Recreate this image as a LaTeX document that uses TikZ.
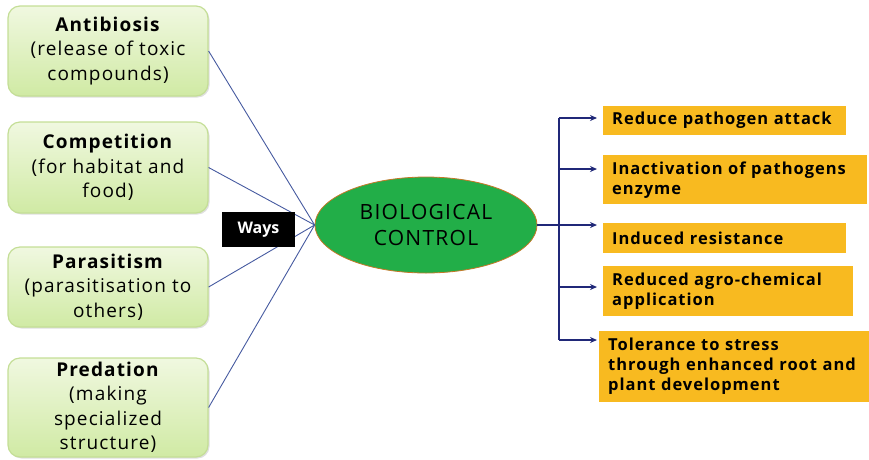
\documentclass[tikz,border=0pt]{standalone}
\usepackage{fontspec}
\setmainfont{Open Sans}
\newfontfamily\widefont[LetterSpace=6]{Open Sans}
\usetikzlibrary{shapes.geometric,arrows.meta,shadows}
\definecolor{boxgreenA}{RGB}{240,248,224}
\definecolor{boxgreenB}{RGB}{208,234,164}
\definecolor{boxgreenEdge}{RGB}{196,222,150}
\definecolor{ovalgreen}{RGB}{34,174,72}
\definecolor{ovaledge}{RGB}{196,120,40}
\definecolor{tipbox}{RGB}{248,186,32}
\definecolor{navy}{RGB}{32,40,120}
\definecolor{wire}{RGB}{70,90,160}
\tikzset{
  waybox/.style={draw=boxgreenEdge, line width=1.2pt, rounded corners=12pt,
    top color=boxgreenA, bottom color=boxgreenB, minimum width=200pt,
    align=center, font=\widefont\fontsize{19}{24.5}\selectfont, inner sep=0pt,
    drop shadow={shadow xshift=1.5pt, shadow yshift=-1.5pt, opacity=0.25}},
  effect/.style={fill=tipbox, anchor=north west, align=left, inner xsep=9pt,
    inner ysep=0pt, font=\widefont\fontsize{16.5}{20}\selectfont\bfseries},
  wire/.style={draw=wire, line width=0.9pt},
  feed/.style={draw=navy, line width=2pt},
  tip/.style={feed, -{Stealth[length=7pt,width=6pt]}, shorten >=6pt},
}
\begin{document}
\begin{tikzpicture}[x=1pt,y=-1pt]
\useasboundingbox (0,0) rectangle (869,459);

% ways of biological control (left column)
\node[waybox, minimum height=90pt] (anti) at (108,51)
  {\textbf{Antibiosis}\\(release of toxic\\compounds)};
\node[waybox, minimum height=91pt] (comp) at (108,167.5)
  {\textbf{Competition}\\(for habitat and\\food)};
\node[waybox, minimum height=80pt] (para) at (108,287)
  {\textbf{Parasitism}\\(parasitisation to\\others)};
\node[waybox, minimum height=99pt] (pred) at (108,407.5)
  {\textbf{Predation}\\(making\\specialized\\structure)};

% central concept
\node[ellipse, draw=ovaledge, line width=0.8pt, fill=ovalgreen,
  minimum width=222pt, minimum height=96pt, inner sep=0pt, align=center,
  font=\widefont\fontsize{21}{26}\selectfont] (bc) at (426,225)
  {BIOLOGICAL\\CONTROL};

% connectors from each way into the oval
\draw[wire] (anti.east) -- (bc.west);
\draw[wire] (comp.east) -- (bc.west);
\draw[wire] (para.east) -- (bc.west);
\draw[wire] (pred.east) -- (bc.west);

% label over the connectors
\node[fill=black, text=white, minimum width=73pt, minimum height=35pt,
  inner sep=0pt, font=\fontsize{16}{18}\selectfont\bfseries] (ways) at (258.5,229.5) {Ways};

% benefits (right column)
\node[effect, minimum width=243pt, minimum height=29pt, text width=225pt] (o1) at (603,106)
  {Reduce pathogen attack};
\node[effect, minimum width=264pt, minimum height=49pt, text width=246pt] (o2) at (603,155)
  {Inactivation of pathogens\\enzyme};
\node[effect, minimum width=243pt, minimum height=30pt, text width=225pt] (o3) at (603,223)
  {Induced resistance};
\node[effect, minimum width=250pt, minimum height=50pt, text width=232pt] (o4) at (603,266)
  {Reduced agro-chemical\\application};
\node[effect, minimum width=270pt, minimum height=71pt, text width=252pt] (o5) at (599,331)
  {Tolerance to stress\\through enhanced root and\\plant development};

% branching arrows
\coordinate (j1) at (559,118);
\coordinate (j2) at (559,169);
\coordinate (j4) at (559,287);
\coordinate (j5) at (559,340);
\draw[feed] (j1) -- (j5);
\draw[tip] (bc.east) -- (bc.east -| o3.west);
\draw[tip] (j1) -- (j1 -| o1.west);
\draw[tip] (j2) -- (j2 -| o2.west);
\draw[tip] (j4) -- (j4 -| o4.west);
\draw[tip] (j5) -- (j5 -| o1.west);
\end{tikzpicture}
\end{document}
